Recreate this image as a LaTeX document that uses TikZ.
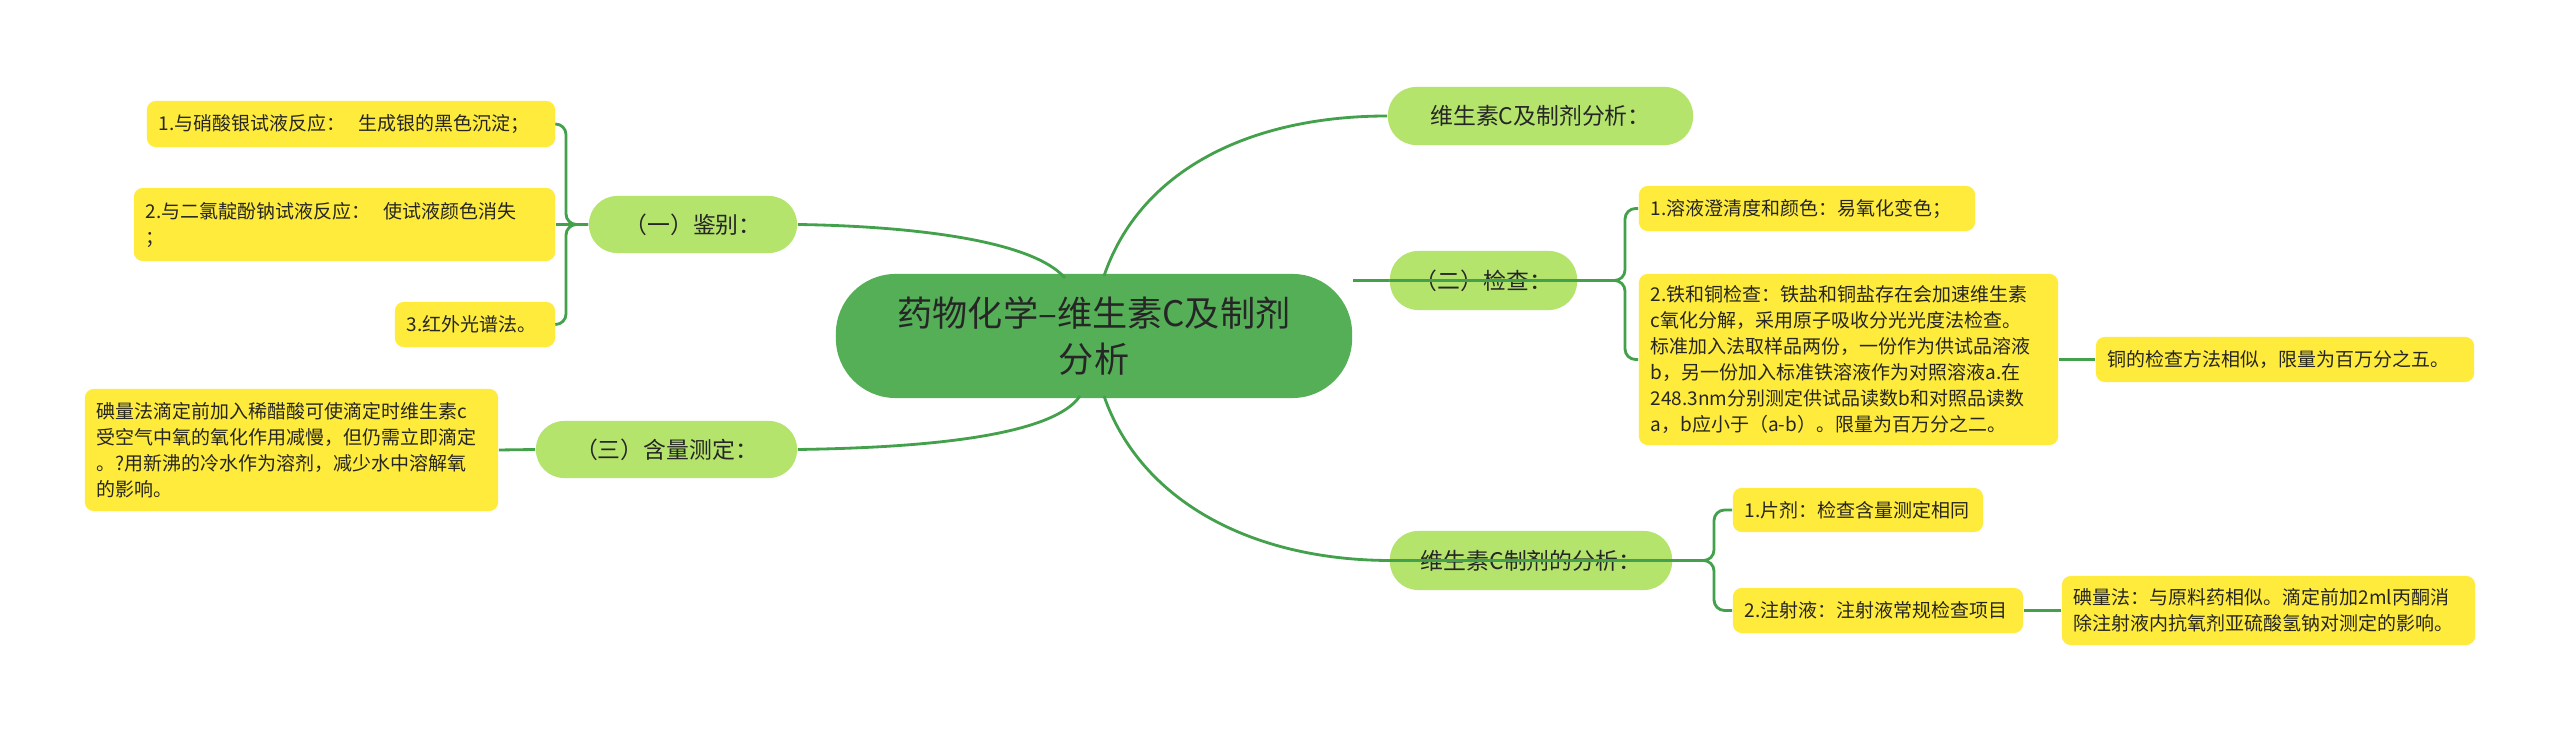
\documentclass[tikz,border=0pt]{standalone}
\usepackage{fontspec}
\setmainfont{Noto Sans CJK SC}
\definecolor{cmain}{HTML}{55AF57}
\definecolor{clev}{HTML}{B5E46C}
\definecolor{cleaf}{HTML}{FFEB3B}
\definecolor{cline}{HTML}{43A04B}
\begin{document}
\begin{tikzpicture}[x=0.01cm,y=-0.01cm,
  box/.style={rectangle,inner sep=0pt,align=left,text=black!85},
  leaf/.style={box,fill=cleaf,rounded corners=2.5pt,font=\fontsize{5.4}{7.4}\selectfont},
  lev/.style={box,fill=clev,rounded corners=8pt,align=center,font=\fontsize{6.5}{8}\selectfont},
  conn/.style={draw=cline,line width=0.8pt},
  br/.style={conn,rounded corners=3pt}]
\useasboundingbox[fill=white] (0,0) rectangle (2560,731);
% central
\node[box,fill=cmain,rounded corners=17pt,minimum width=5.16cm,minimum height=1.24cm,align=center,font=\fontsize{10}{13}\selectfont,text=black!85] (M) at (1094,336) {药物化学--维生素C及制剂\\分析};
% level 1
\node[lev,minimum width=2.08cm,minimum height=0.57cm] (A) at (693,224.5) {（一）鉴别：};
\node[lev,minimum width=2.61cm,minimum height=0.57cm] (B) at (666.5,449.5) {（三）含量测定：};
\node[lev,minimum width=3.05cm,minimum height=0.58cm] (C) at (1540.5,116) {维生素C及制剂分析：};
\node[lev,minimum width=1.87cm,minimum height=0.59cm] (D) at (1483.5,280.5) {（二）检查：};
\node[lev,minimum width=2.82cm,minimum height=0.59cm] (E) at (1531,560.5) {维生素C制剂的分析：};
% leaves
\node[leaf,minimum width=4.08cm,minimum height=0.46cm,text width=3.84cm] (L1) at (351,124) {1.与硝酸银试液反应：\ \ 生成银的黑色沉淀；};
\node[leaf,minimum width=4.21cm,minimum height=0.73cm,text width=3.97cm] (L2) at (344.5,224.5) {2.与二氯靛酚钠试液反应：\ \ 使试液颜色消失\\；};
\node[leaf,minimum width=1.6cm,minimum height=0.45cm,text width=1.36cm] (L3) at (475,324.5) {3.红外光谱法。};
\node[leaf,minimum width=4.13cm,minimum height=1.22cm,text width=3.89cm] (L4) at (291.5,450) {碘量法滴定前加入稀醋酸可使滴定时维生素c\\受空气中氧的氧化作用减慢，但仍需立即滴定\\。?用新沸的冷水作为溶剂，减少水中溶解氧\\的影响。};
\node[leaf,minimum width=3.36cm,minimum height=0.45cm,text width=3.12cm] (R1) at (1807,208.5) {1.溶液澄清度和颜色：易氧化变色；};
\node[leaf,minimum width=4.19cm,minimum height=1.71cm,text width=3.95cm] (R2) at (1848.5,359.5) {2.铁和铜检查：铁盐和铜盐存在会加速维生素\\c氧化分解，采用原子吸收分光光度法检查。\\标准加入法取样品两份，一份作为供试品溶液\\b，另一份加入标准铁溶液作为对照溶液a.在\\248.3nm分别测定供试品读数b和对照品读数\\a，b应小于（a-b）。限量为百万分之二。};
\node[leaf,minimum width=3.78cm,minimum height=0.45cm,text width=3.54cm] (R3) at (2285,359.5) {铜的检查方法相似，限量为百万分之五。};
\node[leaf,minimum width=2.5cm,minimum height=0.44cm,text width=2.26cm] (R4) at (1858,510) {1.片剂：检查含量测定相同};
\node[leaf,minimum width=2.9cm,minimum height=0.45cm,text width=2.66cm] (R5) at (1878,610.5) {2.注射液：注射液常规检查项目};
\node[leaf,minimum width=4.13cm,minimum height=0.69cm,text width=3.89cm] (R6) at (2268.5,610.5) {碘量法：与原料药相似。滴定前加2ml丙酮消\\除注射液内抗氧剂亚硫酸氢钠对测定的影响。};
% central connectors
\coordinate (ma) at (1065,278);
\coordinate (mb) at (1080,396);
\coordinate (mc) at (1104,276);
\coordinate (me) at (1104,396);
\draw[conn] (A.east) .. controls (900,226) and (1030,238) .. (ma);
\draw[conn] (B.east) .. controls (900,448) and (1050,440) .. (mb);
\draw[conn] (mc) .. controls (1140,170) and (1250,116) .. (C.west);
\draw[conn] (M.east|-D.west) -- (D.west);
\draw[conn] (me) .. controls (1140,500) and (1250,560) .. (E.west);
% child brackets
\draw[br] (A.west) -- (566,224.5) -- (566,124) -- (L1.east);
\draw[conn] (A.west) -- (L2.east);
\draw[br] (A.west) -- (566,224.5) -- (566,324.5) -- (L3.east);
\draw[conn] (B.west) -- (L4.east);
\draw[br] (D.west) -- (1625,280.5) -- (1625,208.5) -- (R1.west);
\draw[br] (D.west) -- (1625,280.5) -- (1625,359.5) -- (R2.west);
\draw[conn] (R2.east) -- (R3.west);
\draw[br] (E.west) -- (1714,560.5) -- (1714,510) -- (R4.west);
\draw[br] (E.west) -- (1714,560.5) -- (1714,610.5) -- (R5.west);
\draw[conn] (R5.east) -- (R6.west);
\end{tikzpicture}
\end{document}
